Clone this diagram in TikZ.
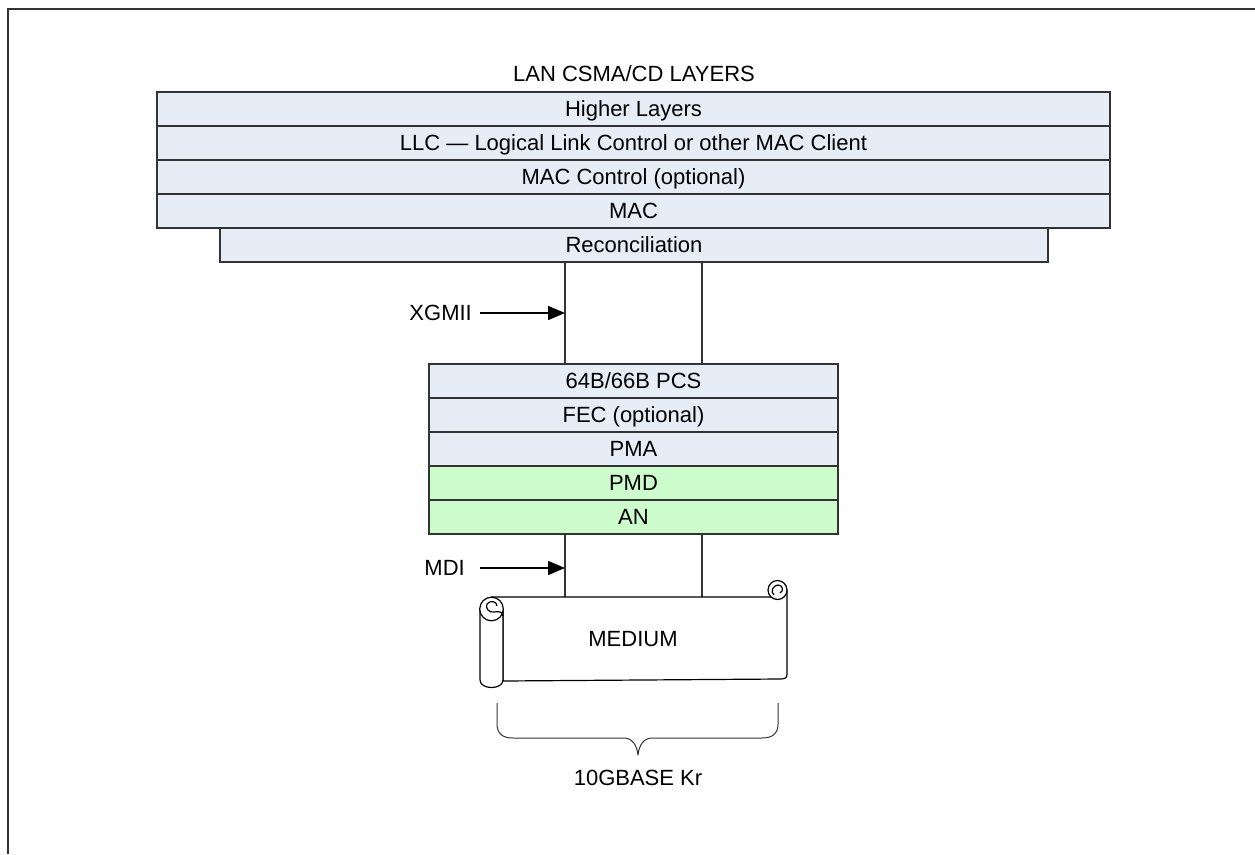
\documentclass[tikz,border=0pt]{standalone}
\usepackage{fontspec}
\setmainfont{Liberation Sans}
\usetikzlibrary{arrows.meta,calc}
\definecolor{layerblue}{RGB}{230,237,247}
\definecolor{layergreen}{RGB}{204,252,204}
\definecolor{edge}{RGB}{51,51,51}
\begin{document}
\begin{tikzpicture}[x=1pt,y=-1pt,
  font=\fontsize{22}{26}\selectfont,
  layer/.style={draw=edge,line width=1.6pt,fill=layerblue,inner sep=0pt,outer sep=0pt,minimum height=34pt,text height=15.8pt,text depth=0pt},
  wide/.style={layer,minimum width=953pt},
  narrow/.style={layer,minimum width=409pt},
  greenlayer/.style={fill=layergreen},
  link/.style={draw=edge,line width=1.4pt},
  pointer/.style={draw=black,line width=1.4pt,-{Triangle[length=17pt,width=14pt]}},
  scroll/.style={draw=black,line width=1.2pt,line join=round},
  lbl/.style={inner sep=0pt,text height=15.8pt,text depth=0pt}
]
\useasboundingbox (0,0) rectangle (1255,854);
% frame (cropped)
\draw[edge,line width=2pt] (8,854) -- (8,9) -- (1255,9);

\node[lbl] (title) at (634,74) {LAN CSMA/CD LAYERS};
\node[wide] (higher) at (633.5,109) {Higher Layers};
\node[wide] (llc) at (633.5,143) {LLC --- Logical Link Control or other MAC Client};
\node[wide] (macctl) at (633.5,177) {MAC Control (optional)};
\node[wide] (mac) at (633.5,211) {MAC};
\node[layer,minimum width=828pt] (recon) at (634,245) {Reconciliation};

\node[narrow] (pcs) at (633.5,381) {64B/66B PCS};
\node[narrow] (fec) at (633.5,415) {FEC (optional)};
\node[narrow] (pma) at (633.5,449) {PMA};
\node[narrow,greenlayer] (pmd) at (633.5,483) {PMD};
\node[narrow,greenlayer] (an) at (633.5,517) {AN};

% XGMII links
\coordinate (xl) at (565,0);
\coordinate (xr) at (702,0);
\draw[link] (recon.south -| xl) -- (pcs.north -| xl);
\draw[link] (recon.south -| xr) -- (pcs.north -| xr);
\node[lbl,anchor=east] (xgmii) at (472,313) {XGMII};
\draw[pointer] (xgmii.east) ++(8,0) coordinate (xgs) -- (xgs -| xl);

% medium scroll
\coordinate (medtop) at (633,597);
\draw[link] (an.south -| xl) -- (medtop -| xl);
\draw[link] (an.south -| xr) -- (medtop -| xr);
\node[lbl,anchor=east] (mdi) at (465,568) {MDI};
\draw[pointer] (mdi.east) ++(15,0) coordinate (mds) -- (mds -| xl);

% scroll body
\draw[scroll,fill=white] (491,597) -- (777,597) -- (787,590) -- (787,674)
  .. controls (787,678) and (785,679) .. (780,679) -- (503,681) -- (503,612) -- cycle;
% left cylinder
\draw[scroll,fill=white] (480,609) -- (480,680) .. controls (480,690) and (503,690) .. (503,680) -- (503,609);
\draw[scroll,fill=white] (491.5,609) circle[radius=11.8];
\draw[scroll] (497,606) .. controls (497,601) and (490,600) .. (487,604)
  .. controls (485,608) and (489,613) .. (494,612) .. controls (499,611) and (503,612) .. (503,616);
% right curl
\draw[scroll,fill=white] (777.5,590) circle[radius=9.5];
\draw[scroll] (774,595) .. controls (770,592) and (773,585) .. (778,585)
  .. controls (783,585) and (784,591) .. (780,593);
\node[lbl] (medium) at (633,639) {MEDIUM};

% brace
\draw[edge,line width=1pt,line join=round]
  (497,703) -- (497,724) .. controls (497,734) and (503,738) .. (513,738)
  -- (624,738) .. controls (632,738) and (637,745) .. (638,755)
  .. controls (639,745) and (644,738) .. (652,738)
  -- (762,738) .. controls (772,738) and (778,734) .. (778,724) -- (778,703);
\node[lbl] (kr) at (638,778) {10GBASE Kr};
\end{tikzpicture}
\end{document}
